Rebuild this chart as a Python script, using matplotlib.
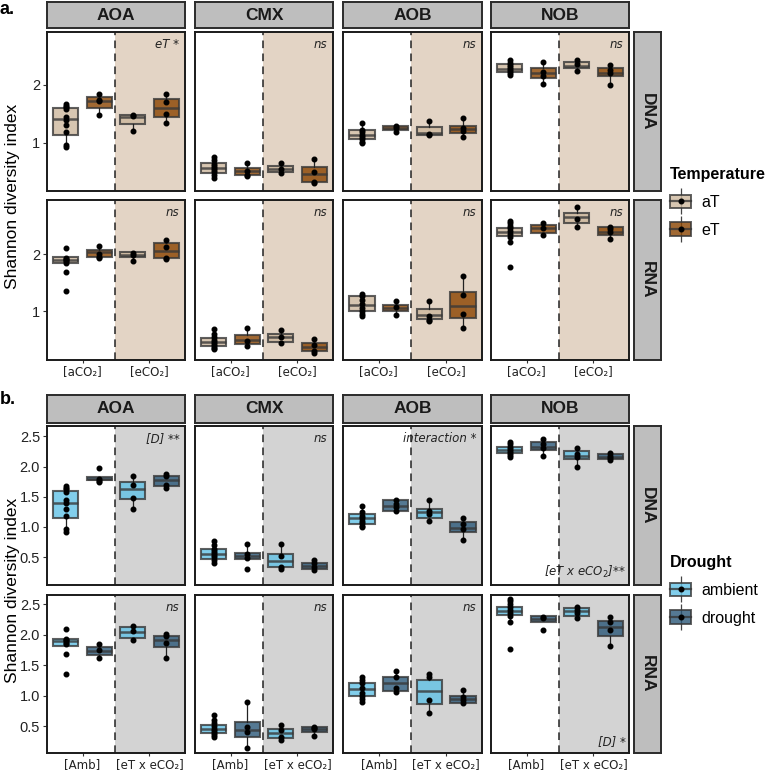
import numpy as np
import matplotlib.pyplot as plt
from matplotlib.colors import to_rgba
from matplotlib.patches import Patch
from matplotlib.lines import Line2D
from matplotlib.legend_handler import HandlerTuple

targets = ["AOA", "CMX", "AOB", "NOB"]
rows = ["DNA", "RNA"]

# box stats (whislo, q1, med, q3, whishi), boxes left to right:
# panel a: aCO2-aT, aCO2-eT, eCO2-aT, eCO2-eT
a_dna_box = {
    "AOA": [(0.92, 1.14, 1.41, 1.60, 1.67), (1.48, 1.60, 1.72, 1.79, 1.84), (1.21, 1.33, 1.45, 1.48, 1.48), (1.34, 1.45, 1.60, 1.76, 1.84)],
    "CMX": [(0.40, 0.48, 0.57, 0.66, 0.76), (0.43, 0.45, 0.52, 0.57, 0.66), (0.48, 0.50, 0.55, 0.60, 0.66), (0.30, 0.33, 0.46, 0.59, 0.72)],
    "AOB": [(1.00, 1.07, 1.14, 1.22, 1.34), (1.19, 1.22, 1.26, 1.29, 1.29), (1.14, 1.14, 1.17, 1.28, 1.38), (1.10, 1.17, 1.24, 1.29, 1.43)],
    "NOB": [(2.17, 2.22, 2.28, 2.36, 2.42), (2.02, 2.12, 2.21, 2.29, 2.40), (2.24, 2.29, 2.33, 2.40, 2.42), (2.00, 2.15, 2.21, 2.29, 2.34)],
}
a_dna_pts = {
    "AOA": [[1.67, 1.64, 1.62, 1.58, 1.45, 1.40, 1.30, 1.18, 0.97, 0.92], [1.84, 1.74, 1.72, 1.48], [1.48, 1.46, 1.21], [1.84, 1.71, 1.50, 1.34]],
    "CMX": [[0.76, 0.70, 0.64, 0.60, 0.57, 0.53, 0.50, 0.45, 0.40], [0.66, 0.52, 0.45, 0.43], [0.66, 0.55, 0.48], [0.72, 0.50, 0.33, 0.30]],
    "AOB": [[1.34, 1.22, 1.18, 1.14, 1.10, 1.06, 1.02, 1.00], [1.29, 1.26, 1.19], [1.38, 1.15, 1.14], [1.43, 1.25, 1.20, 1.10]],
    "NOB": [[2.42, 2.38, 2.34, 2.30, 2.27, 2.24, 2.20, 2.17], [2.40, 2.22, 2.15, 2.02], [2.42, 2.35, 2.24], [2.34, 2.25, 2.20, 2.00]],
}
a_rna_box = {
    "AOA": [(1.84, 1.84, 1.89, 1.95, 1.95), (1.93, 1.95, 2.03, 2.07, 2.14), (1.88, 1.95, 1.99, 2.04, 2.04), (1.92, 1.94, 2.06, 2.19, 2.24)],
    "CMX": [(0.33, 0.39, 0.46, 0.53, 0.68), (0.37, 0.42, 0.49, 0.58, 0.70), (0.42, 0.46, 0.54, 0.60, 0.67), (0.26, 0.30, 0.37, 0.44, 0.51)],
    "AOB": [(0.91, 1.00, 1.10, 1.26, 1.30), (0.93, 1.00, 1.05, 1.10, 1.18), (0.81, 0.86, 0.93, 1.04, 1.18), (0.70, 0.88, 1.09, 1.33, 1.61)],
    "NOB": [(2.21, 2.32, 2.39, 2.46, 2.58), (2.32, 2.37, 2.46, 2.51, 2.56), (2.47, 2.54, 2.65, 2.72, 2.82), (2.26, 2.33, 2.39, 2.47, 2.49)],
}
a_rna_pts = {
    "AOA": [[2.10, 1.93, 1.91, 1.89, 1.87, 1.85, 1.68, 1.35], [2.14, 2.00, 1.95, 1.93], [2.02, 1.98, 1.88], [2.24, 2.13, 1.94, 1.92]],
    "CMX": [[0.68, 0.60, 0.55, 0.50, 0.46, 0.42, 0.38, 0.35, 0.33], [0.70, 0.48, 0.38], [0.67, 0.55, 0.44], [0.51, 0.40, 0.30, 0.26]],
    "AOB": [[1.30, 1.26, 1.20, 1.12, 1.05, 1.00, 0.95, 0.91], [1.17, 1.07, 0.93], [1.17, 0.92, 0.84, 0.82], [1.61, 1.28, 0.95, 0.70]],
    "NOB": [[2.58, 2.55, 2.50, 2.45, 2.40, 2.36, 2.30, 2.21, 1.77], [2.55, 2.45, 2.33], [2.82, 2.62, 2.48], [2.47, 2.44, 2.38, 2.27]],
}

# panel b: Amb-ambient, Amb-drought, eTxeCO2-ambient, eTxeCO2-drought
b_dna_box = {
    "AOA": [(0.92, 1.14, 1.40, 1.60, 1.67), (1.74, 1.77, 1.80, 1.83, 1.83), (1.30, 1.47, 1.63, 1.75, 1.87), (1.65, 1.67, 1.77, 1.85, 1.90)],
    "CMX": [(0.39, 0.47, 0.56, 0.64, 0.76), (0.47, 0.47, 0.52, 0.57, 0.71), (0.31, 0.33, 0.44, 0.56, 0.72), (0.28, 0.31, 0.36, 0.41, 0.47)],
    "AOB": [(1.00, 1.05, 1.14, 1.22, 1.35), (1.25, 1.27, 1.35, 1.44, 1.45), (1.10, 1.15, 1.25, 1.30, 1.45), (0.79, 0.92, 0.99, 1.09, 1.15)],
    "NOB": [(2.15, 2.23, 2.27, 2.33, 2.41), (2.17, 2.27, 2.32, 2.40, 2.45), (2.00, 2.13, 2.17, 2.26, 2.31), (2.10, 2.12, 2.15, 2.20, 2.25)],
}
b_dna_pts = {
    "AOA": [[1.67, 1.64, 1.62, 1.58, 1.45, 1.40, 1.30, 1.18, 0.97, 0.92], [1.97, 1.80, 1.76, 1.74], [1.85, 1.70, 1.48, 1.30], [1.88, 1.85, 1.70, 1.65]],
    "CMX": [[0.76, 0.70, 0.64, 0.60, 0.57, 0.53, 0.50, 0.45, 0.40], [0.71, 0.55, 0.48, 0.31], [0.72, 0.52, 0.33, 0.31], [0.46, 0.40, 0.33, 0.28]],
    "AOB": [[1.35, 1.24, 1.18, 1.14, 1.10, 1.06, 1.02, 1.00], [1.44, 1.38, 1.33, 1.26], [1.44, 1.27, 1.21, 1.10], [1.15, 1.05, 0.97, 0.79]],
    "NOB": [[2.41, 2.37, 2.33, 2.29, 2.26, 2.23, 2.19, 2.15], [2.45, 2.38, 2.30, 2.17], [2.30, 2.20, 2.15, 2.00], [2.22, 2.17, 2.14, 2.11]],
}
b_rna_box = {
    "AOA": [(1.82, 1.82, 1.89, 1.93, 1.93), (1.62, 1.67, 1.74, 1.79, 1.85), (1.90, 1.95, 2.05, 2.13, 2.16), (1.61, 1.79, 1.92, 1.97, 2.02)],
    "CMX": [(0.33, 0.39, 0.46, 0.52, 0.68), (0.15, 0.33, 0.44, 0.57, 0.89), (0.27, 0.31, 0.39, 0.46, 0.52), (0.34, 0.41, 0.46, 0.49, 0.49)],
    "AOB": [(0.90, 1.00, 1.11, 1.21, 1.31), (1.05, 1.08, 1.20, 1.31, 1.41), (0.72, 0.87, 1.08, 1.26, 1.36), (0.86, 0.88, 0.95, 0.99, 1.11)],
    "NOB": [(2.21, 2.32, 2.39, 2.46, 2.58), (2.21, 2.21, 2.25, 2.30, 2.30), (2.26, 2.31, 2.38, 2.44, 2.48), (1.80, 1.98, 2.13, 2.23, 2.30)],
}
b_rna_pts = {
    "AOA": [[2.10, 1.93, 1.91, 1.89, 1.87, 1.85, 1.68, 1.35], [1.85, 1.75, 1.62], [2.15, 2.06, 1.92], [2.01, 1.98, 1.87, 1.61]],
    "CMX": [[0.68, 0.60, 0.55, 0.50, 0.46, 0.42, 0.38, 0.35, 0.33], [0.89, 0.48, 0.40, 0.15], [0.52, 0.44, 0.33, 0.27], [0.49, 0.47, 0.46, 0.34]],
    "AOB": [[1.31, 1.26, 1.20, 1.12, 1.05, 1.00, 0.95, 0.90], [1.40, 1.30, 1.12, 1.06], [1.35, 1.30, 0.93, 0.72], [1.10, 0.97, 0.93, 0.88]],
    "NOB": [[2.58, 2.55, 2.50, 2.45, 2.40, 2.36, 2.30, 2.21, 1.77], [2.29, 2.27, 2.07], [2.46, 2.40, 2.36, 2.27], [2.29, 2.21, 2.08, 1.81]],
}

# significance labels per panel
a_labels = {"DNA": ["eT *", "ns", "ns", "ns"], "RNA": ["ns", "ns", "ns", "ns"]}
b_labels = {"DNA": ["[D] **", "ns", "interaction *", None], "RNA": ["ns", "ns", "ns", None]}
b_bottom_labels = {"DNA": r"[eT x eCO$_2$]**", "RNA": "[D] *"}

a_xticks = ["[aCO₂]", "[eCO₂]"]
b_xticks = ["[Amb]", "[eT x eCO₂]"]
a_yticks = [1, 2]
b_yticks = [0.5, 1.0, 1.5, 2.0, 2.5]

temp_colors = ["#CDB89E", "#8A4300"]
drought_colors = ["#62C2E6", "#2A5778"]
a_shade = "#E3D4C5"
b_shade = "#D3D3D3"
edge = (0.22, 0.22, 0.22, 0.8)

W, H = 770, 772
fig = plt.figure(figsize=(W / 100, H / 100), dpi=100)
plt.rcParams['font.family'] = ['Liberation Sans', 'DejaVu Sans']


def px_axes(x0, x1, y0, y1):
    return fig.add_axes([x0 / W, 1 - y1 / H, (x1 - x0) / W, (y1 - y0) / H])


def strip(x0, x1, y0, y1, text, rot=0):
    ax = px_axes(x0, x1, y0, y1)
    ax.set_facecolor("#BEBEBE")
    ax.set_xticks([])
    ax.set_yticks([])
    for s in ax.spines.values():
        s.set_linewidth(1.4)
        s.set_color("#2b2b2b")
    ax.text(0.5, 0.5, text, transform=ax.transAxes, ha="center", va="center",
            fontsize=12.5, fontweight="bold", rotation=rot, color="#1a1a1a")


def draw_boxes(ax, stats, pts, colors):
    pos = [0.75, 1.25, 1.75, 2.25]
    bx = [dict(whislo=s[0], q1=s[1], med=s[2], q3=s[3], whishi=s[4], fliers=[]) for s in stats]
    art = ax.bxp(bx, positions=pos, widths=0.375, patch_artist=True, showfliers=False,
                 showcaps=False, manage_ticks=False,
                 boxprops=dict(edgecolor=edge, linewidth=1.5),
                 medianprops=dict(color=edge, linewidth=1.8),
                 whiskerprops=dict(color="#222222", linewidth=0.9))
    for patch, c in zip(art["boxes"], colors * 2):
        patch.set_facecolor(to_rgba(c, 0.8))
        patch.set_edgecolor(edge)
    for x, p in zip(pos, pts):
        ax.plot([x] * len(p), p, "o", color="black", ms=3.3, zorder=6)


cols_x = [(47, 185), (195, 333), (343, 482), (491, 629)]
panels = [
    dict(strip_y=(2, 28), rows_y=[(32, 191), (200, 360)], box=[a_dna_box, a_rna_box],
         pts=[a_dna_pts, a_rna_pts], ylims=[(0.17, 2.91), (0.14, 2.95)], yticks=a_yticks,
         xticks=a_xticks, colors=temp_colors, shade=a_shade, labels=a_labels, bottom=None),
    dict(strip_y=(395, 423), rows_y=[(426, 585), (595, 753)], box=[b_dna_box, b_rna_box],
         pts=[b_dna_pts, b_rna_pts], ylims=[(0.04, 2.67), (0.06, 2.65)], yticks=b_yticks,
         xticks=b_xticks, colors=drought_colors, shade=b_shade, labels=b_labels, bottom=b_bottom_labels),
]

for p in panels:
    for j, t in enumerate(targets):
        strip(cols_x[j][0], cols_x[j][1], p["strip_y"][0], p["strip_y"][1], t)
    for i, r in enumerate(rows):
        y0, y1 = p["rows_y"][i]
        strip(634, 661, y0, y1, r, rot=-90)
        for j, t in enumerate(targets):
            ax = px_axes(cols_x[j][0], cols_x[j][1], y0, y1)
            ax.set_xlim(0.47, 2.53)
            ax.set_ylim(*p["ylims"][i])
            ax.axvspan(1.48, 2.6, color=p["shade"], zorder=0, lw=0)
            ax.axvline(1.48, color="#222222", lw=1.1, ls=(0, (5, 3.5)), zorder=1)
            draw_boxes(ax, p["box"][i][t], p["pts"][i][t], p["colors"])
            for s in ax.spines.values():
                s.set_linewidth(1.4)
                s.set_color("#1a1a1a")
                s.set_zorder(10)
            ax.tick_params(length=3, width=0.8, color="#333333", labelsize=10.5,
                           labelcolor="#222222", pad=2)
            ax.set_yticks(p["yticks"])
            ax.set_xticks([1, 2])
            if j == 0:
                if len(p["yticks"]) > 2:
                    ax.set_yticklabels([f"{v:.1f}" for v in p["yticks"]])
                else:
                    ax.set_yticklabels([str(v) for v in p["yticks"]])
            else:
                ax.tick_params(axis="y", length=0)
                ax.set_yticklabels([])
            if i == 1:
                ax.tick_params(axis="x", pad=1, length=2.5)
                ax.set_xticklabels(p["xticks"], fontsize=8.5, family="DejaVu Sans")
            else:
                ax.tick_params(axis="x", length=0)
                ax.set_xticklabels([])
            lab = p["labels"][r][j]
            if lab:
                ax.text(0.96, 0.965, lab, transform=ax.transAxes, ha="right", va="top",
                        fontsize=8.5, style="italic", family="DejaVu Sans", color="#222222")
            if p["bottom"] is not None and t == "NOB":
                ax.text(0.98, 0.03, p["bottom"][r], transform=ax.transAxes, ha="right",
                        va="bottom", fontsize=8.5, style="italic", family="DejaVu Sans",
                        color="#222222")

fig.text(13 / W, 1 - 196 / H, "Shannon diversity index", rotation=90, ha="center",
         va="center", fontsize=12.5)
fig.text(13 / W, 1 - 590 / H, "Shannon diversity index", rotation=90, ha="center",
         va="center", fontsize=12.5)
fig.text(0, 1 - 10 / H, "a.", fontsize=13, fontweight="bold", va="center")
fig.text(0, 1 - 400 / H, "b.", fontsize=13, fontweight="bold", va="center")


def key(c):
    return (Line2D([], [], color="#444444", marker="|", ms=19, mew=0.9, ls="none"),
            Patch(facecolor=to_rgba(c, 0.8), edgecolor=edge, linewidth=1.4),
            Line2D([], [], color=edge, lw=1.6),
            Line2D([], [], color="black", marker="o", ms=3.3, ls="none"))


for title, names, cols, ypx in [("Temperature", ["aT", "eT"], temp_colors, 162),
                                ("Drought", ["ambient", "drought"], drought_colors, 550)]:
    leg = fig.legend([key(c) for c in cols], names, title=title, loc="upper left",
                     bbox_to_anchor=(665 / W, 1 - ypx / H), frameon=False, fontsize=11.5,
                     title_fontproperties={"weight": "bold", "size": 11.5},
                     handler_map={tuple: HandlerTuple(ndivide=1, pad=0)},
                     handlelength=1.35, handleheight=0.9, labelspacing=0.8, handletextpad=0.6,
                     alignment="left", borderaxespad=0, borderpad=0.3)

fig.savefig("out.png", dpi=100)
